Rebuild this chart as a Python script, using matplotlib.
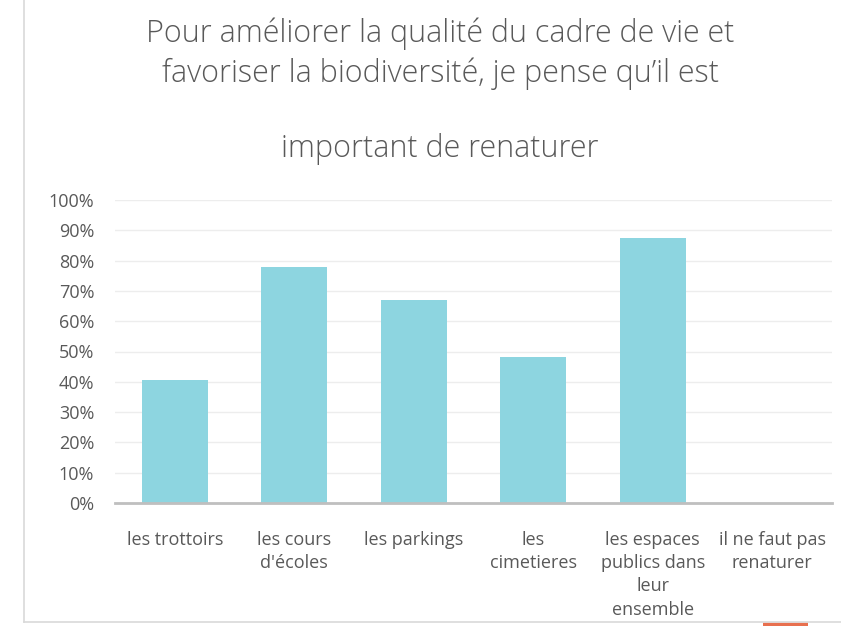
import matplotlib
matplotlib.use("Agg")
import matplotlib.pyplot as plt
from matplotlib.lines import Line2D
from matplotlib.ticker import PercentFormatter

# data
categories = ["les trottoirs", "les cours\nd'écoles", "les parkings", "les\ncimetieres",
              "les espaces\npublics dans\nleur\nensemble", "il ne faut pas\nrenaturer"]
values = [0.405, 0.778, 0.67, 0.482, 0.876, 0.0]
y_ticks = [0, 0.1, 0.2, 0.3, 0.4, 0.5, 0.6, 0.7, 0.8, 0.9, 1.0]
title_lines = ["Pour améliorer la qualité du cadre de vie et",
               "favoriser la biodiversité, je pense qu\u2019il est",
               "important de renaturer"]

text_gray = "#595959"
bar_color = "#8dd5e0"

fig = plt.figure(figsize=(8.41, 6.26), dpi=100)
ax = fig.add_axes([115 / 841, 1 - 503 / 626, 717 / 841, 303 / 626])

x = list(range(len(categories)))
ax.bar(x, values, width=0.55, color=bar_color, zorder=3)

ax.set_xlim(-0.5, len(categories) - 0.5)
ax.set_ylim(0, 1)
ax.set_yticks(y_ticks)
ax.yaxis.set_major_formatter(PercentFormatter(1.0, decimals=0))
ax.set_xticks(x)
ax.set_xticklabels(categories, linespacing=1.38)
ax.tick_params(axis="y", length=0, pad=15, labelsize=13, labelcolor=text_gray)
ax.tick_params(axis="x", length=0, pad=20, labelsize=13, labelcolor=text_gray)
for lab in ax.get_xticklabels() + ax.get_yticklabels():
    lab.set_family(["Open Sans", "DejaVu Sans"])
for lab in ax.get_xticklabels():
    lab.set_verticalalignment("top")

ax.yaxis.grid(True, color="#ededed", linewidth=1, zorder=0)
for s in ["top", "right", "left"]:
    ax.spines[s].set_visible(False)
ax.spines["bottom"].set_color("#bfbfbf")
ax.spines["bottom"].set_linewidth(2)
ax.spines["bottom"].set_zorder(4)

# title, three lines as in the original
title_y = [1 - 34 / 626, 1 - 74 / 626, 1 - 149 / 626]
for t, yy in zip(title_lines, title_y):
    fig.text(440 / 841, yy, t, ha="center", va="center", fontsize=22,
             color=text_gray, family=["Open Sans", "DejaVu Sans"], fontweight="light")

# frame pieces of the original screenshot
fig.add_artist(Line2D([24 / 841, 24 / 841], [1 - 622 / 626, 1], color="#d9d9d9", lw=1.2))
fig.add_artist(Line2D([24 / 841, 1], [1 - 622 / 626, 1 - 622 / 626], color="#d9d9d9", lw=1.2))
fig.add_artist(Line2D([763 / 841, 808 / 841], [1 - 624.5 / 626, 1 - 624.5 / 626],
                      color="#e8704f", lw=3, solid_capstyle="butt"))

fig.savefig("out.png", dpi=100)
